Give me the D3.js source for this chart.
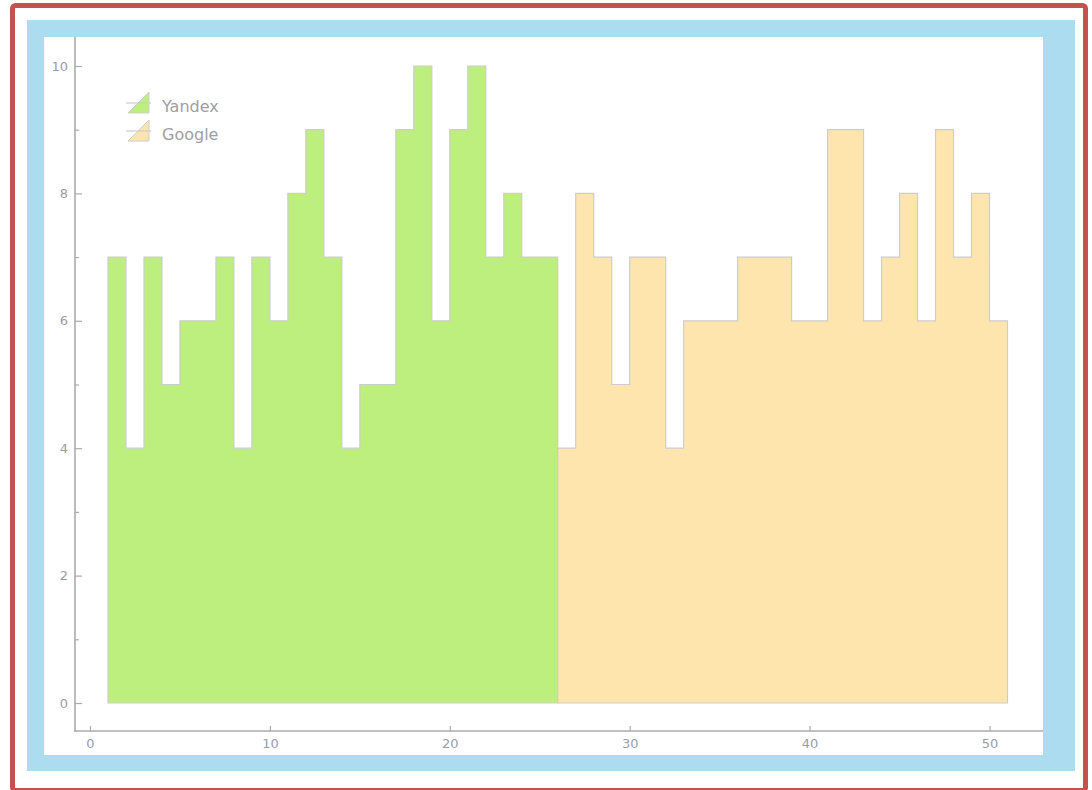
<!DOCTYPE html>
<html>
<head>
<meta charset="utf-8">
<script src="https://cdn.jsdelivr.net/npm/d3@7"></script>
<style>
  body { margin: 0; background: #fff; }
  svg text { font-family: "DejaVu Sans", Verdana, sans-serif; }
</style>
</head>
<body>
<div id="chart"></div>
<script>
// histogram counts per unit-wide bin
const yandexStart = 1;
const yandexCounts = [7, 4, 7, 5, 6, 6, 7, 4, 7, 6, 8, 9, 7, 4, 5, 5, 9, 10, 6, 9, 10, 7, 8, 7, 7];
const googleStart = 26;
const googleCounts = [4, 8, 7, 5, 7, 7, 4, 6, 6, 6, 7, 7, 7, 6, 6, 9, 9, 6, 7, 8, 6, 9, 7, 8, 6];
const seriesNames = ["Yandex", "Google"];
const xTicks = [0, 10, 20, 30, 40, 50];
const yTicks = [0, 2, 4, 6, 8, 10];
const yMinorTicks = [1, 3, 5, 7, 9];

const width = 1092, height = 790;
const fills = ["#bcef7d", "#fee5ae"];
const edge = "#cdcdcd";
const axisColor = "#ababab";
const labelColor = "#9c9ca6";

const svg = d3.select("#chart").append("svg")
  .attr("width", width)
  .attr("height", height);

// frames
svg.append("rect")
  .attr("x", 12.5).attr("y", 5.5).attr("width", 1073).attr("height", 785)
  .attr("rx", 3)
  .attr("fill", "#fff").attr("stroke", "#c4524f").attr("stroke-width", 5);
svg.append("rect")
  .attr("x", 27).attr("y", 20).attr("width", 1048).attr("height", 751)
  .attr("fill", "#acdcf0");
svg.append("rect")
  .attr("x", 44).attr("y", 37).attr("width", 999).attr("height", 718)
  .attr("fill", "#fff");

const xScale = d3.scaleLinear().domain([0, 50]).range([90, 989.5]);
const yScale = d3.scaleLinear().domain([0, 10]).range([703, 66]);

function stepPoints(start, counts) {
  const pts = counts.map((c, i) => [start + i, c]);
  pts.push([start + counts.length, counts[counts.length - 1]]);
  return pts;
}

const area = d3.area()
  .curve(d3.curveStepAfter)
  .x(d => xScale(d[0]))
  .y0(yScale(0))
  .y1(d => yScale(d[1]));

const series = [
  stepPoints(yandexStart, yandexCounts),
  stepPoints(googleStart, googleCounts)
];

svg.append("g")
  .selectAll("path")
  .data(series)
  .enter()
  .append("path")
  .attr("fill", (_, i) => fills[i])
  .attr("stroke", edge)
  .attr("stroke-width", 1.2)
  .attr("d", area);

// axes
const xAxis = d3.axisBottom(xScale)
  .tickValues(xTicks)
  .tickSizeInner(-5)
  .tickSizeOuter(0)
  .tickPadding(8);
const yAxis = d3.axisLeft(yScale)
  .tickValues(yTicks)
  .tickSizeInner(-7)
  .tickSizeOuter(0)
  .tickPadding(7);
const yMinor = d3.axisLeft(yScale)
  .tickValues(yMinorTicks)
  .tickSizeInner(-4)
  .tickSizeOuter(0)
  .tickFormat("");

const gx = svg.append("g")
  .attr("transform", "translate(0,731)")
  .call(xAxis);
const gy = svg.append("g")
  .attr("transform", "translate(75,0)")
  .call(yAxis);
const gym = svg.append("g")
  .attr("transform", "translate(75,0)")
  .call(yMinor);

[gx, gy, gym].forEach(g => {
  g.select(".domain").remove();
  g.selectAll("line").attr("stroke", axisColor).attr("stroke-width", 1.2);
  g.selectAll("text")
    .attr("fill", labelColor)
    .style("font-size", "13px")
    .style("font-family", "'DejaVu Sans', Verdana, sans-serif");
});

svg.append("line")
  .attr("x1", 75).attr("x2", 75).attr("y1", 37).attr("y2", 731.5)
  .attr("stroke", axisColor).attr("stroke-width", 1.6);
svg.append("line")
  .attr("x1", 74).attr("x2", 1043).attr("y1", 731).attr("y2", 731)
  .attr("stroke", axisColor).attr("stroke-width", 1.6);

// legend
const legend = svg.append("g")
  .selectAll("g")
  .data(seriesNames)
  .enter()
  .append("g")
  .attr("transform", (_, i) => `translate(0, ${103 + i * 28})`);

legend.append("polygon")
  .attr("points", "128,10 149,10 149,-11")
  .attr("fill", (_, i) => fills[i])
  .attr("stroke", edge)
  .attr("stroke-width", 1);
legend.append("line")
  .attr("x1", 126).attr("x2", 151).attr("y1", 0).attr("y2", 0)
  .attr("stroke", edge).attr("stroke-width", 1.2);
legend.append("text")
  .attr("x", 162).attr("y", 9)
  .attr("fill", "#9e9ea6")
  .style("font-size", "16px")
  .text(d => d);
</script>
</body>
</html>
